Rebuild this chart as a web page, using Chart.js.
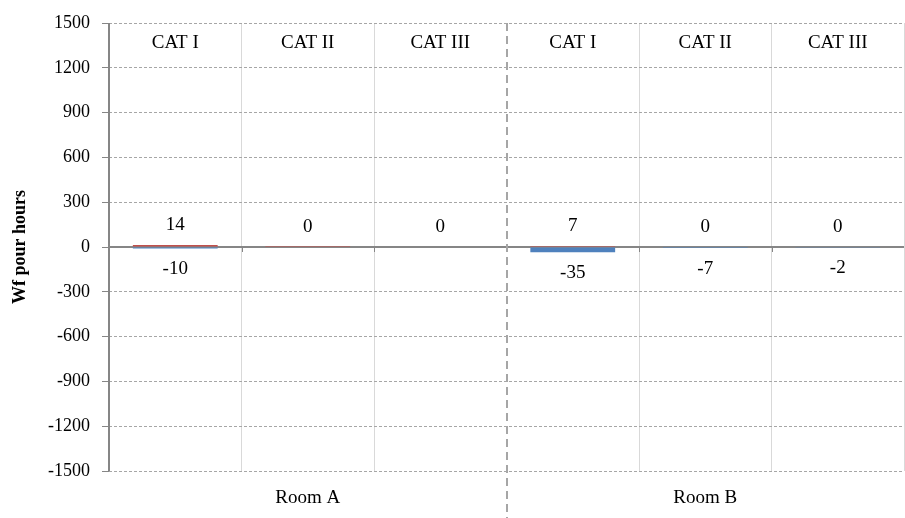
<!DOCTYPE html>
<html><head><meta charset="utf-8">
<script src="https://cdn.jsdelivr.net/npm/chart.js@4/dist/chart.umd.min.js"></script>
<style>html,body{margin:0;padding:0;background:#fff}#wrap{width:905px;height:518px;position:relative}</style>
</head><body><div id="wrap"><canvas id="c" width="905" height="518"></canvas></div>
<script>
const categories = ["CAT I","CAT II","CAT III","CAT I","CAT II","CAT III"];
const groups = ["Room A","Room B"];
const positiveValues = [14, 0.4, 0, 7, 0, 0];
const negativeValues = [-10, null, null, -35, -7, -2];
const yTicks = [-1500,-1200,-900,-600,-300,0,300,600,900,1200,1500];
const FONT = "'Liberation Serif', 'Times New Roman', serif";

const overlay = {
  id: 'overlay',
  beforeDatasetsDraw(chart) {
    const {ctx, chartArea, scales} = chart;
    const x = scales.x, y = scales.y;
    ctx.save();
    const y0 = y.getPixelForValue(0);
    ctx.strokeStyle = '#868686'; ctx.lineWidth = 2; ctx.setLineDash([]);
    ctx.beginPath(); ctx.moveTo(chartArea.left, y0); ctx.lineTo(chartArea.right, y0); ctx.stroke();
    ctx.beginPath(); ctx.moveTo(chartArea.left, chartArea.top); ctx.lineTo(chartArea.left, chartArea.bottom); ctx.stroke();
    ctx.lineWidth = 1;
    for (let i = 1; i < categories.length; i++) {
      const xb = Math.round((x.getPixelForValue(i-1) + x.getPixelForValue(i)) / 2) + 0.5;
      ctx.beginPath(); ctx.moveTo(xb, y0); ctx.lineTo(xb, y0 + 5); ctx.stroke();
    }
    ctx.restore();
  },
  afterDraw(chart) {
    const {ctx, chartArea, scales} = chart;
    const x = scales.x, y = scales.y;
    const y0 = y.getPixelForValue(0);
    ctx.save();
    const per = categories.length / groups.length;
    for (let g = 1; g < groups.length; g++) {
      const xs = Math.round((x.getPixelForValue(g*per-1) + x.getPixelForValue(g*per)) / 2);
      ctx.strokeStyle = '#A6A6A6'; ctx.lineWidth = 2; ctx.setLineDash([8,5]);
      ctx.beginPath(); ctx.moveTo(xs, chartArea.top); ctx.lineTo(xs, chart.height); ctx.stroke();
    }
    ctx.setLineDash([]);
    ctx.fillStyle = '#000'; ctx.font = "19px " + FONT; ctx.textAlign = 'center'; ctx.textBaseline = 'middle';
    categories.forEach((c, i) => ctx.fillText(c, x.getPixelForValue(i), chartArea.top + 20));
    groups.forEach((g, gi) => {
      const xc = (x.getPixelForValue(gi*per) + x.getPixelForValue(gi*per + per - 1)) / 2;
      ctx.fillText(g, xc, chartArea.bottom + 27);
    });
    chart.data.datasets.forEach((ds, di) => {
      const meta = chart.getDatasetMeta(di);
      meta.data.forEach((el, i) => {
        const v = ds.data[i];
        if (v === null || v === undefined) return;
        const txt = String(Math.round(v));
        if (v >= 0 && di === 0) ctx.fillText(txt, el.x, Math.min(el.y, y0) - 20);
        else ctx.fillText(txt, el.x, Math.max(el.y, y0) + 21);
      });
    });
    ctx.restore();
  }
};

new Chart(document.getElementById('c'), {
  type: 'bar',
  data: {
    labels: categories,
    datasets: [
      {label: 'pos', data: positiveValues, backgroundColor: '#C0504D', categoryPercentage: 0.8, barPercentage: 0.8},
      {label: 'neg', data: negativeValues, backgroundColor: '#4F81BD', categoryPercentage: 0.8, barPercentage: 0.8}
    ]
  },
  plugins: [overlay],
  options: {
    responsive: false, animation: false, devicePixelRatio: 1,
    layout: {padding: {top: 23, bottom: 47, right: 1, left: 0}},
    plugins: {legend: {display: false}, tooltip: {enabled: false}},
    scales: {
      x: {
        stacked: true, display: true,
        ticks: {display: false},
        grid: {offset: true, drawTicks: false, lineWidth: 1,
          color: (ctx) => (ctx.index === 3 || ctx.index === 0 ? 'rgba(0,0,0,0)' : '#D9D9D9')},
        border: {display: false}
      },
      y: {
        stacked: true, min: -1500, max: 1500,
        afterBuildTicks: (s) => { s.ticks = yTicks.map(v => ({value: v})); },
        afterFit: (s) => { s.width = 109; },
        ticks: {color: '#000', font: {family: FONT, size: 18}, padding: 12, callback: (v) => String(v)},
        grid: {color: '#A6A6A6', lineWidth: 1, tickLength: 7, tickColor: '#868686', tickBorderDash: []},
        border: {display: false, dash: [3,2]},
        title: {display: true, text: 'Wf pour hours', color: '#000', font: {family: FONT, size: 18, weight: 'bold'}, padding: {top: 10, bottom: 0}}
      }
    }
  }
});
</script></body></html>
